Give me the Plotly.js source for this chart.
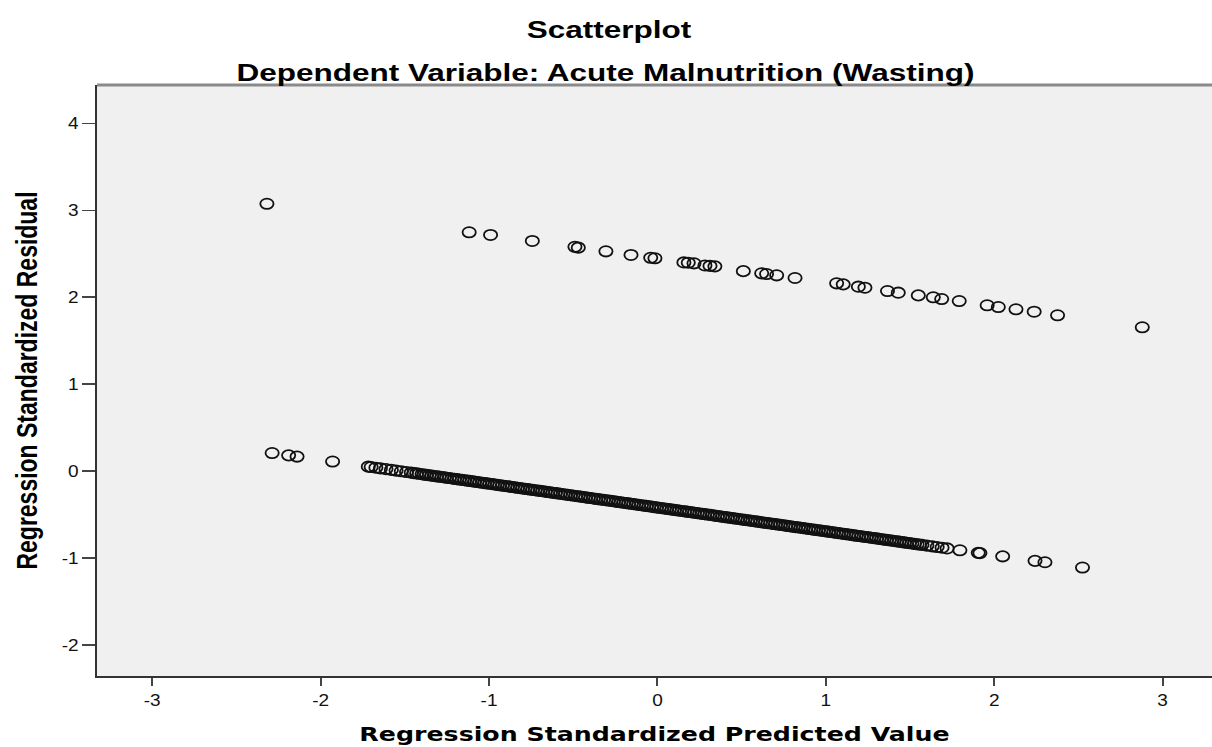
<!DOCTYPE html>
<html>
<head>
<meta charset="utf-8">
<script src="https://cdn.plot.ly/plotly-3.0.1.min.js"></script>
<style>
html,body{margin:0;padding:0;background:#fff;}
#chart{width:1212px;height:747px;}
</style>
</head>
<body>
<div id="chart"></div>
<script>
// Upper band of residuals (predicted, residual)
var upperX = [-2.319,-1.118,-0.991,-0.743,-0.490,-0.470,-0.306,-0.157,-0.040,-0.015,0.157,0.183,0.217,0.282,0.312,0.341,0.510,0.619,0.648,0.708,0.817,1.064,1.103,1.193,1.232,1.366,1.430,1.549,1.638,1.688,1.792,1.958,2.024,2.129,2.237,2.376,2.879];
var upperY = [3.075,2.747,2.716,2.647,2.580,2.570,2.528,2.486,2.454,2.448,2.400,2.397,2.390,2.365,2.360,2.355,2.300,2.275,2.267,2.252,2.221,2.160,2.148,2.121,2.109,2.071,2.052,2.021,1.999,1.979,1.956,1.907,1.887,1.861,1.833,1.792,1.654];

// Lower band of residuals (predicted, residual)
var lowerX = [-2.288,-2.190,-2.140,-1.929,-1.717,
-1.700,-1.672,-1.645,-1.612,-1.580,-1.552,-1.521,-1.490,-1.462,-1.430,-1.398,-1.371,-1.340,-1.311,-1.280,-1.252,-1.220,-1.191,-1.160,-1.130,-1.101,-1.072,-1.040,-1.012,-0.980,-0.951,-0.921,-0.890,-0.862,-0.830,-0.801,-0.770,-0.742,-0.711,-0.682,-0.651,-0.622,-0.591,-0.560,-0.532,-0.502,-0.471,-0.442,-0.410,-0.381,-0.352,-0.320,-0.291,-0.262,-0.231,-0.200,-0.171,-0.141,-0.112,-0.080,-0.051,-0.020,
0.010,0.041,0.070,0.101,0.130,0.162,0.191,0.220,0.252,0.281,0.312,0.341,0.372,0.401,0.432,0.462,0.491,0.520,0.552,0.581,0.612,0.641,0.672,0.701,0.730,0.762,0.791,0.820,0.852,0.881,0.912,0.940,0.972,1.001,1.030,1.062,1.091,1.120,1.151,1.180,1.212,1.241,1.270,1.301,1.332,1.360,1.392,1.421,1.452,1.480,1.511,1.542,1.571,1.600,1.632,1.661,1.690,1.720,
1.796,1.905,1.915,2.050,2.242,2.301,2.524];
var lowerY = [0.207,0.180,0.166,0.109,0.050,
0.046,0.038,0.031,0.022,0.013,0.005,-0.003,-0.012,-0.019,-0.028,-0.037,-0.044,-0.053,-0.061,-0.069,-0.077,-0.086,-0.094,-0.102,-0.110,-0.118,-0.126,-0.135,-0.143,-0.151,-0.159,-0.168,-0.176,-0.184,-0.193,-0.201,-0.209,-0.217,-0.225,-0.233,-0.242,-0.250,-0.258,-0.267,-0.274,-0.282,-0.291,-0.299,-0.308,-0.316,-0.324,-0.332,-0.340,-0.348,-0.357,-0.365,-0.373,-0.381,-0.389,-0.398,-0.406,-0.415,
-0.423,-0.431,-0.439,-0.448,-0.456,-0.464,-0.472,-0.480,-0.489,-0.497,-0.505,-0.513,-0.522,-0.530,-0.538,-0.547,-0.555,-0.562,-0.571,-0.579,-0.588,-0.596,-0.604,-0.612,-0.620,-0.629,-0.637,-0.645,-0.653,-0.661,-0.670,-0.678,-0.686,-0.694,-0.702,-0.711,-0.719,-0.727,-0.735,-0.743,-0.752,-0.760,-0.768,-0.776,-0.785,-0.793,-0.801,-0.809,-0.818,-0.826,-0.834,-0.843,-0.850,-0.858,-0.867,-0.875,-0.883,-0.891,
-0.912,-0.942,-0.945,-0.982,-1.034,-1.050,-1.111];

// Extra overlapping cases in the dense middle of the lower band
var denseX = [-1.446,-1.415,-1.385,-1.355,-1.326,-1.296,-1.265,-1.236,-1.205,-1.176,-1.145,-1.115,-1.086,-1.056,-1.026,-0.995,-0.966,-0.936,-0.905,-0.876,-0.846,-0.815,-0.786,-0.756,-0.726,-0.696,-0.666,-0.636,-0.606,-0.575,-0.546,-0.516,-0.486,-0.456,-0.426,-0.396,-0.366,-0.336,-0.305,-0.276,-0.246,-0.216,-0.185,-0.156,-0.126,-0.096,-0.066,-0.035,-0.006,
0.025,0.055,0.086,0.115,0.146,0.176,0.206,0.236,0.266,0.296,0.326,0.356,0.386,0.416,0.446,0.476,0.506,0.536,0.566,0.596,0.626,0.656,0.686,0.716,0.746,0.776,0.806,0.836,0.866,0.896,0.926,0.956,0.986,1.016,1.046,1.076,1.106,1.136,1.166,1.196,1.226,1.256,1.286,1.316,1.346,1.376,1.406,1.436,1.466,1.496,1.526,1.556];
var denseY = [-0.024,-0.032,-0.041,-0.049,-0.057,-0.065,-0.073,-0.081,-0.090,-0.098,-0.106,-0.114,-0.122,-0.131,-0.139,-0.147,-0.155,-0.164,-0.172,-0.180,-0.188,-0.197,-0.205,-0.213,-0.221,-0.229,-0.238,-0.246,-0.254,-0.262,-0.270,-0.279,-0.287,-0.295,-0.303,-0.311,-0.320,-0.328,-0.336,-0.344,-0.353,-0.361,-0.369,-0.377,-0.385,-0.394,-0.402,-0.410,-0.418,
-0.427,-0.435,-0.444,-0.452,-0.460,-0.468,-0.476,-0.485,-0.493,-0.501,-0.509,-0.518,-0.526,-0.534,-0.542,-0.550,-0.559,-0.567,-0.575,-0.583,-0.592,-0.600,-0.608,-0.616,-0.624,-0.633,-0.641,-0.649,-0.657,-0.666,-0.674,-0.682,-0.690,-0.698,-0.707,-0.715,-0.723,-0.731,-0.740,-0.748,-0.756,-0.764,-0.772,-0.781,-0.789,-0.797,-0.805,-0.813,-0.822,-0.830,-0.838,-0.846];

var xTicks = [-3,-2,-1,0,1,2,3];
var yTicks = [-2,-1,0,1,2,3,4];

var chartTitle = "Scatterplot";
var chartSubtitle = "Dependent Variable: Acute Malnutrition (Wasting)";
var xTitle = "Regression Standardized Predicted Value";
var yTitle = "Regression Standardized Residual";

var markerStyle = {symbol:'circle-open', size:11.5, color:'#111', line:{width:1.8, color:'#111'}};

var traces = [
  {x: lowerX.concat(denseX, upperX), y: lowerY.concat(denseY, upperY), type:'scatter', mode:'markers', marker: markerStyle, hoverinfo:'x+y', showlegend:false}
];

var tickFont = {family:'Liberation Sans, Arial, sans-serif', size:17, color:'#111'};
var layout = {
  width:1212, height:747,
  margin:{l:97, r:0, t:85, b:71, pad:0},
  paper_bgcolor:'#ffffff',
  plot_bgcolor:'#f0f0f0',
  showlegend:false,
  xaxis:{
    range:[-3.328, 3.293], tickvals:xTicks, ticktext:xTicks.map(String),
    showgrid:false, zeroline:false, showline:true, linecolor:'#333', linewidth:2,
    ticks:'outside', ticklen:8, tickwidth:2, tickcolor:'#444',
    tickfont:tickFont,
    title:{text:xTitle, font:{family:'DejaVu Sans, sans-serif', size:19, color:'#000', weight:'bold'}, standoff:18}
  },
  yaxis:{
    range:[-2.359, 4.442], tickvals:yTicks, ticktext:yTicks.map(String),
    showgrid:false, zeroline:false, showline:true, linecolor:'#333', linewidth:2,
    ticks:'outside', ticklen:13, tickwidth:1.5, tickcolor:'#444',
    tickfont:tickFont,
    title:{text:yTitle, font:{family:'Liberation Sans, Arial, sans-serif', size:23, color:'#000', weight:'bold'}, standoff:22}
  },
  shapes:[
    {type:'line', xref:'paper', yref:'paper', x0:0, x1:1, y0:1, y1:1, line:{color:'#8a8a8a', width:3}}
  ],
  annotations:[
    {text:chartTitle, xref:'paper', yref:'paper', x:0.459, y:1, yshift:55, xanchor:'center', yanchor:'middle', showarrow:false,
     font:{family:'Liberation Sans, Arial, sans-serif', size:23, color:'#000', weight:'bold'}},
    {text:chartSubtitle, xref:'paper', yref:'paper', x:0.456, y:1, yshift:12, xanchor:'center', yanchor:'middle', showarrow:false,
     font:{family:'Liberation Sans, Arial, sans-serif', size:23, color:'#000', weight:'bold'}}
  ]
};

// The reference picture is stretched horizontally; widen the text the same way.
function stretchText(el, f, anchor){
  var r = el.getBoundingClientRect();
  var sx = anchor === 'right' ? r.right : (r.left + r.right) / 2;
  var svg = el.ownerSVGElement;
  var pt = svg.createSVGPoint(); pt.x = sx; pt.y = r.top;
  var lp = pt.matrixTransform(el.parentNode.getScreenCTM().inverse());
  var old = el.getAttribute('transform') || '';
  el.setAttribute('transform', 'translate(' + lp.x + ',0) scale(' + f + ',1) translate(' + (-lp.x) + ',0) ' + old);
}

Plotly.newPlot('chart', traces, layout, {displayModeBar:false, staticPlot:true}).then(function(gd){
  gd.querySelectorAll('.annotation-text').forEach(function(el){ stretchText(el, 1.37, 'center'); });
  gd.querySelectorAll('.xtitle').forEach(function(el){ stretchText(el, 1.33, 'center'); });
  gd.querySelectorAll('.ytitle').forEach(function(el){ stretchText(el, 1.3, 'center'); });
  gd.querySelectorAll('.xtick text').forEach(function(el){ stretchText(el, 1.12, 'center'); });
  gd.querySelectorAll('.ytick text').forEach(function(el){ stretchText(el, 1.12, 'right'); });
  // markers drawn slightly wider than tall, as in the stretched reference
  gd.querySelectorAll('.scatterlayer path.point').forEach(function(p){
    var t = p.getAttribute('transform') || '';
    p.setAttribute('transform', t + ' scale(1.15,0.9)');
    p.style.vectorEffect = 'non-scaling-stroke';
  });
});
</script>
</body>
</html>
